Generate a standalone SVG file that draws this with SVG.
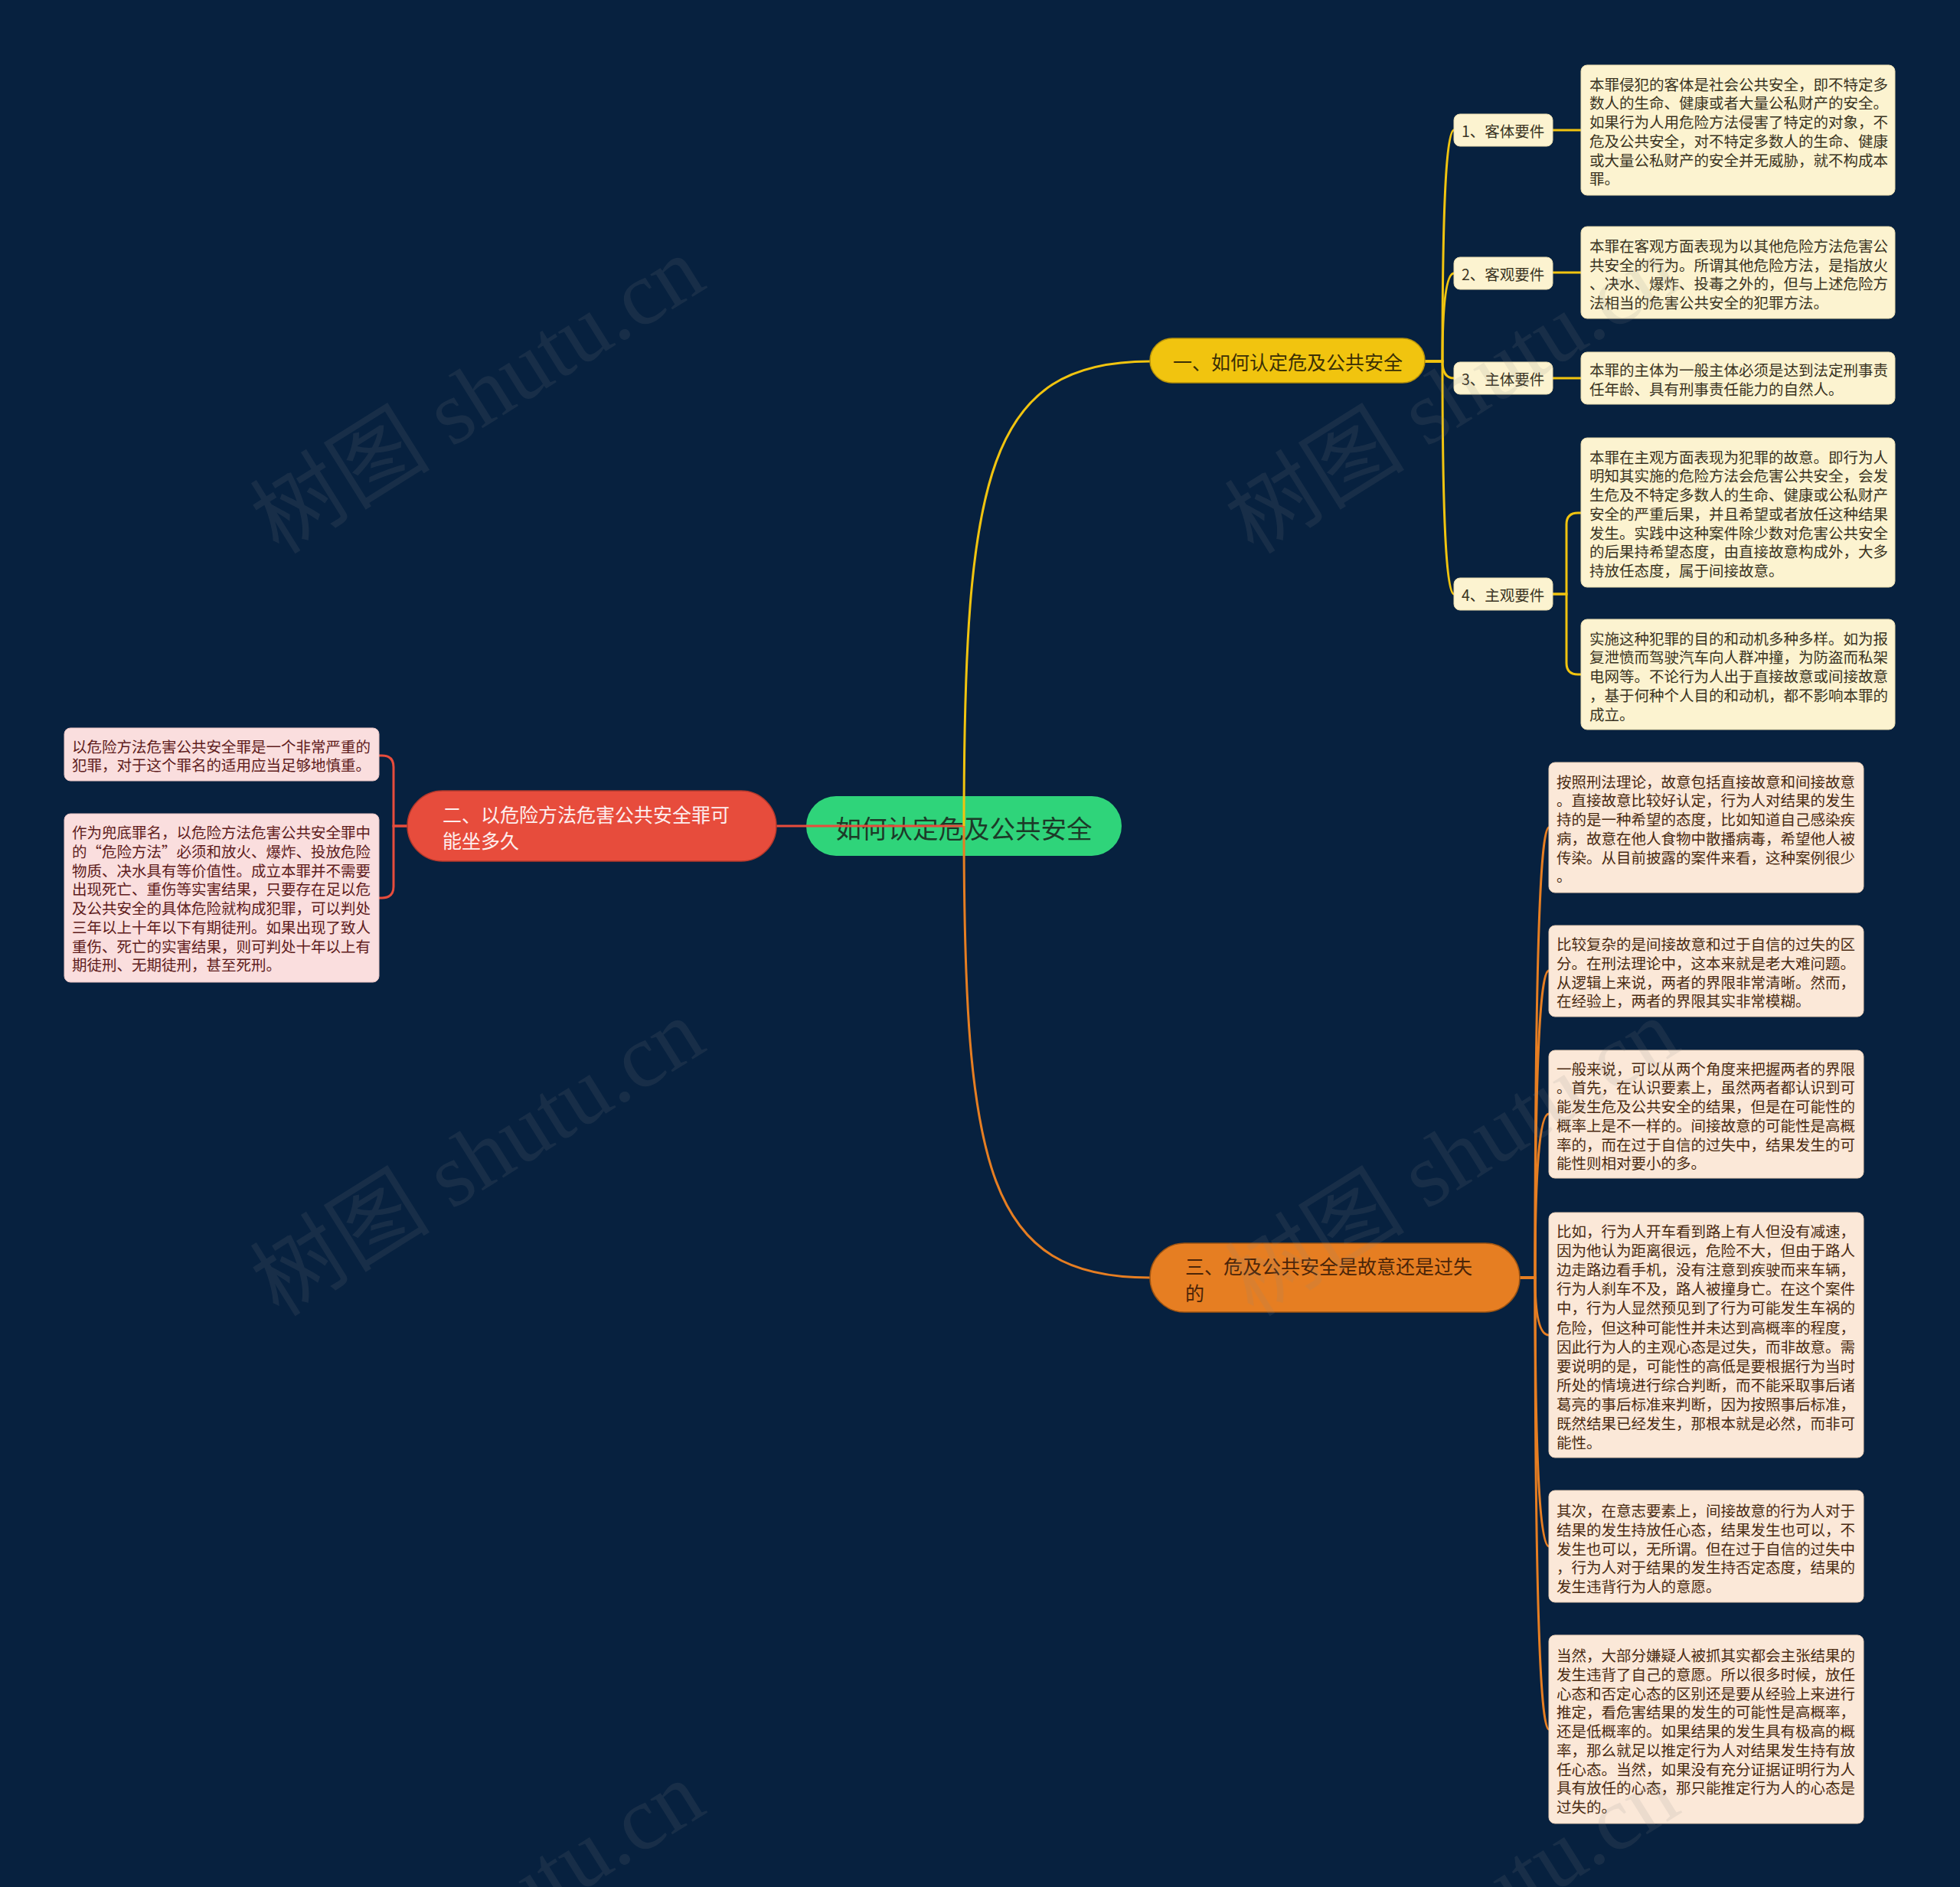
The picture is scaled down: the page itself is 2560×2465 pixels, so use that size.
<svg xmlns="http://www.w3.org/2000/svg" width="2560" height="2465" viewBox="0 0 2560 2465">
<style>
text{font-family:"Noto Sans CJK SC","Noto Sans",sans-serif;dominant-baseline:central}
.bx{font-size:19.5px}
.yb{fill:#fcf3d0;stroke:#e9dcae;stroke-width:1}
.pb{fill:#fadede;stroke:#e8c3c3;stroke-width:1}
.ob{fill:#fbe8d8;stroke:#e8cdb4;stroke-width:1}
.yt{fill:#3a3322}
.pt{fill:#5e1c1c}
.ot{fill:#4a2b12}
.cy{fill:none;stroke:#f1c40f;stroke-width:3}
.cr{fill:none;stroke:#e74c3c;stroke-width:3}
.co{fill:none;stroke:#e67e22;stroke-width:3}
.wm{font-family:"Liberation Serif","Noto Sans CJK SC",serif;font-size:118px;fill:#8a8a8a;opacity:0.13;dominant-baseline:auto}
</style>
<rect width="2560" height="2465" fill="#07213f"/>

<g id="root">
<rect x="1053" y="1040" width="412" height="78" rx="39" fill="#2fd47a"/>
<text x="1259" y="1080" text-anchor="middle" font-size="33.5" fill="#1c3a28">如何认定危及公共安全</text>
</g>

<g id="connectors">
<path class="cr" d="M1014 1079 H1259"/>
<path class="cy" d="M1259 1079 C1259 620 1290 472 1502 472"/>
<path class="co" d="M1259 1079 C1259 1530 1290 1669 1502 1669"/>
<path class="cy" d="M1861 472 H1884 Q1884 170 1899 170"/>
<path class="cy" d="M1861 472 H1884 Q1884 357 1899 357"/>
<path class="cy" d="M1861 472 H1884 Q1884 494 1899 494"/>
<path class="cy" d="M1861 472 H1884 Q1884 776 1899 776"/>
<path class="cy" d="M2028 170 H2065"/>
<path class="cy" d="M2028 356 H2065"/>
<path class="cy" d="M2028 494 H2065"/>
<path class="cy" d="M2028 776 H2046 V685 Q2046 670 2061 670 H2065"/>
<path class="cy" d="M2028 776 H2046 V866 Q2046 881 2061 881 H2065"/>
<path class="cr" d="M532 1079 H514 V1002 Q514 987 499 987 H495"/>
<path class="cr" d="M532 1079 H514 V1158 Q514 1173 499 1173 H495"/>
<path class="co" d="M1985 1669 H2005 Q2005 1081 2023 1081"/>
<path class="co" d="M1985 1669 H2005 Q2005 1268 2023 1268"/>
<path class="co" d="M1985 1669 H2005 Q2005 1455 2023 1455"/>
<path class="co" d="M1985 1669 H2005 Q2005 1744 2023 1744"/>
<path class="co" d="M1985 1669 H2005 Q2005 2020 2023 2020"/>
<path class="co" d="M1985 1669 H2005 Q2005 2259 2023 2259"/>
</g>

<g id="n1">
<rect x="1502" y="442" width="359" height="58" rx="29" fill="#f1c40f" stroke="#b8930a" stroke-width="1.5"/>
<text x="1682" y="472" text-anchor="middle" font-size="25" fill="#3a2f05">一、如何认定危及公共安全</text>
</g>
<g id="n2">
<rect x="532" y="1033" width="482" height="92" rx="46" fill="#e74c3c" stroke="#b3382b" stroke-width="1.5"/>
<text font-size="25" fill="#fdeeee"><tspan x="578" y="1063">二、以危险方法危害公共安全罪可</tspan><tspan x="578" y="1097">能坐多久</tspan></text>
</g>
<g id="n3">
<rect x="1502" y="1624" width="483" height="90" rx="45" fill="#e67e22" stroke="#9e5412" stroke-width="1.5"/>
<text font-size="25" fill="#4a2408"><tspan x="1548" y="1653">三、危及公共安全是故意还是过失</tspan><tspan x="1548" y="1688">的</tspan></text>
</g>

<g id="n1-1">
<rect class="yb" x="1899" y="149" width="129" height="42" rx="8"/>
<text class="bx yt" x="1909" y="170">1、客体要件</text>
</g>
<g id="n1-1-1">
<rect class="yb" x="2065" y="85" width="410" height="170" rx="8"/>
<text class="bx yt"><tspan x="2076" y="108.5">本罪侵犯的客体是社会公共安全，即不特定多</tspan><tspan x="2076" y="133.3">数人的生命、健康或者大量公私财产的安全。</tspan><tspan x="2076" y="158">如果行为人用危险方法侵害了特定的对象，不</tspan><tspan x="2076" y="182.8">危及公共安全，对不特定多数人的生命、健康</tspan><tspan x="2076" y="207.5">或大量公私财产的安全并无威胁，就不构成本</tspan><tspan x="2076" y="232.3">罪。</tspan></text>
</g>
<g id="n1-2">
<rect class="yb" x="1899" y="336" width="129" height="42" rx="8"/>
<text class="bx yt" x="1909" y="357">2、客观要件</text>
</g>
<g id="n1-2-1">
<rect class="yb" x="2065" y="296" width="410" height="120" rx="8"/>
<text class="bx yt"><tspan x="2076" y="320">本罪在客观方面表现为以其他危险方法危害公</tspan><tspan x="2076" y="344.5">共安全的行为。所谓其他危险方法，是指放火</tspan><tspan x="2076" y="369">、决水、爆炸、投毒之外的，但与上述危险方</tspan><tspan x="2076" y="393.5">法相当的危害公共安全的犯罪方法。</tspan></text>
</g>
<g id="n1-3">
<rect class="yb" x="1899" y="473" width="129" height="42" rx="8"/>
<text class="bx yt" x="1909" y="494">3、主体要件</text>
</g>
<g id="n1-3-1">
<rect class="yb" x="2065" y="460" width="410" height="68" rx="8"/>
<text class="bx yt"><tspan x="2076" y="482">本罪的主体为一般主体必须是达到法定刑事责</tspan><tspan x="2076" y="506.5">任年龄、具有刑事责任能力的自然人。</tspan></text>
</g>
<g id="n1-4">
<rect class="yb" x="1899" y="755" width="129" height="42" rx="8"/>
<text class="bx yt" x="1909" y="776">4、主观要件</text>
</g>
<g id="n1-4-1">
<rect class="yb" x="2065" y="572" width="410" height="195" rx="8"/>
<text class="bx yt"><tspan x="2076" y="595.5">本罪在主观方面表现为犯罪的故意。即行为人</tspan><tspan x="2076" y="620.3">明知其实施的危险方法会危害公共安全，会发</tspan><tspan x="2076" y="645">生危及不特定多数人的生命、健康或公私财产</tspan><tspan x="2076" y="669.8">安全的严重后果，并且希望或者放任这种结果</tspan><tspan x="2076" y="694.5">发生。实践中这种案件除少数对危害公共安全</tspan><tspan x="2076" y="719.3">的后果持希望态度，由直接故意构成外，大多</tspan><tspan x="2076" y="744">持放任态度，属于间接故意。</tspan></text>
</g>
<g id="n1-4-2">
<rect class="yb" x="2065" y="809" width="410" height="144" rx="8"/>
<text class="bx yt"><tspan x="2076" y="832.5">实施这种犯罪的目的和动机多种多样。如为报</tspan><tspan x="2076" y="857.3">复泄愤而驾驶汽车向人群冲撞，为防盗而私架</tspan><tspan x="2076" y="882">电网等。不论行为人出于直接故意或间接故意</tspan><tspan x="2076" y="906.8">，基于何种个人目的和动机，都不影响本罪的</tspan><tspan x="2076" y="931.5">成立。</tspan></text>
</g>

<g id="n2-1">
<rect class="pb" x="84" y="951" width="411" height="69" rx="8"/>
<text class="bx pt"><tspan x="94" y="973.5">以危险方法危害公共安全罪是一个非常严重的</tspan><tspan x="94" y="998">犯罪，对于这个罪名的适用应当足够地慎重。</tspan></text>
</g>
<g id="n2-2">
<rect class="pb" x="84" y="1063" width="411" height="220" rx="8"/>
<text class="bx pt"><tspan x="94" y="1086">作为兜底罪名，以危险方法危害公共安全罪中</tspan><tspan x="94" y="1110.8">的“危险方法”必须和放火、爆炸、投放危险</tspan><tspan x="94" y="1135.5">物质、决水具有等价值性。成立本罪并不需要</tspan><tspan x="94" y="1160.3">出现死亡、重伤等实害结果，只要存在足以危</tspan><tspan x="94" y="1185">及公共安全的具体危险就构成犯罪，可以判处</tspan><tspan x="94" y="1209.8">三年以上十年以下有期徒刑。如果出现了致人</tspan><tspan x="94" y="1234.5">重伤、死亡的实害结果，则可判处十年以上有</tspan><tspan x="94" y="1259.3">期徒刑、无期徒刑，甚至死刑。</tspan></text>
</g>

<g id="n3-1">
<rect class="ob" x="2023" y="996" width="411" height="170" rx="8"/>
<text class="bx ot"><tspan x="2033" y="1019.5">按照刑法理论，故意包括直接故意和间接故意</tspan><tspan x="2033" y="1044.3">。直接故意比较好认定，行为人对结果的发生</tspan><tspan x="2033" y="1069">持的是一种希望的态度，比如知道自己感染疾</tspan><tspan x="2033" y="1093.8">病，故意在他人食物中散播病毒，希望他人被</tspan><tspan x="2033" y="1118.5">传染。从目前披露的案件来看，这种案例很少</tspan><tspan x="2033" y="1143.3">。</tspan></text>
</g>
<g id="n3-2">
<rect class="ob" x="2023" y="1209" width="411" height="119" rx="8"/>
<text class="bx ot"><tspan x="2033" y="1232">比较复杂的是间接故意和过于自信的过失的区</tspan><tspan x="2033" y="1256.8">分。在刑法理论中，这本来就是老大难问题。</tspan><tspan x="2033" y="1281.5">从逻辑上来说，两者的界限非常清晰。然而，</tspan><tspan x="2033" y="1306.3">在经验上，两者的界限其实非常模糊。</tspan></text>
</g>
<g id="n3-3">
<rect class="ob" x="2023" y="1372" width="411" height="167" rx="8"/>
<text class="bx ot"><tspan x="2033" y="1394.5">一般来说，可以从两个角度来把握两者的界限</tspan><tspan x="2033" y="1419.3">。首先，在认识要素上，虽然两者都认识到可</tspan><tspan x="2033" y="1444">能发生危及公共安全的结果，但是在可能性的</tspan><tspan x="2033" y="1468.8">概率上是不一样的。间接故意的可能性是高概</tspan><tspan x="2033" y="1493.5">率的，而在过于自信的过失中，结果发生的可</tspan><tspan x="2033" y="1518.3">能性则相对要小的多。</tspan></text>
</g>
<g id="n3-4">
<rect class="ob" x="2023" y="1584" width="411" height="320" rx="8"/>
<text class="bx ot"><tspan x="2033" y="1607">比如，行为人开车看到路上有人但没有减速，</tspan><tspan x="2033" y="1632.1">因为他认为距离很远，危险不大，但由于路人</tspan><tspan x="2033" y="1657.2">边走路边看手机，没有注意到疾驶而来车辆，</tspan><tspan x="2033" y="1682.3">行为人刹车不及，路人被撞身亡。在这个案件</tspan><tspan x="2033" y="1707.4">中，行为人显然预见到了行为可能发生车祸的</tspan><tspan x="2033" y="1732.5">危险，但这种可能性并未达到高概率的程度，</tspan><tspan x="2033" y="1757.6">因此行为人的主观心态是过失，而非故意。需</tspan><tspan x="2033" y="1782.7">要说明的是，可能性的高低是要根据行为当时</tspan><tspan x="2033" y="1807.8">所处的情境进行综合判断，而不能采取事后诸</tspan><tspan x="2033" y="1832.9">葛亮的事后标准来判断，因为按照事后标准，</tspan><tspan x="2033" y="1858">既然结果已经发生，那根本就是必然，而非可</tspan><tspan x="2033" y="1883.1">能性。</tspan></text>
</g>
<g id="n3-5">
<rect class="ob" x="2023" y="1947" width="411" height="146" rx="8"/>
<text class="bx ot"><tspan x="2033" y="1972">其次，在意志要素上，间接故意的行为人对于</tspan><tspan x="2033" y="1996.8">结果的发生持放任心态，结果发生也可以，不</tspan><tspan x="2033" y="2021.5">发生也可以，无所谓。但在过于自信的过失中</tspan><tspan x="2033" y="2046.3">，行为人对于结果的发生持否定态度，结果的</tspan><tspan x="2033" y="2071">发生违背行为人的意愿。</tspan></text>
</g>
<g id="n3-6">
<rect class="ob" x="2023" y="2136" width="411" height="246" rx="8"/>
<text class="bx ot"><tspan x="2033" y="2161">当然，大部分嫌疑人被抓其实都会主张结果的</tspan><tspan x="2033" y="2185.8">发生违背了自己的意愿。所以很多时候，放任</tspan><tspan x="2033" y="2210.5">心态和否定心态的区别还是要从经验上来进行</tspan><tspan x="2033" y="2235.3">推定，看危害结果的发生的可能性是高概率，</tspan><tspan x="2033" y="2260">还是低概率的。如果结果的发生具有极高的概</tspan><tspan x="2033" y="2284.8">率，那么就足以推定行为人对结果发生持有放</tspan><tspan x="2033" y="2309.5">任心态。当然，如果没有充分证据证明行为人</tspan><tspan x="2033" y="2334.3">具有放任的心态，那只能推定行为人的心态是</tspan><tspan x="2033" y="2359">过失的。</tspan></text>
</g>

<g id="watermarks">
<text class="wm" text-anchor="middle" transform="translate(645 550) rotate(-32)">树图 shutu.cn</text>
<text class="wm" text-anchor="middle" transform="translate(1918 550) rotate(-32)">树图 shutu.cn</text>
<text class="wm" text-anchor="middle" transform="translate(645 1546) rotate(-32)">树图 shutu.cn</text>
<text class="wm" text-anchor="middle" transform="translate(1918 1546) rotate(-32)">树图 shutu.cn</text>
<text class="wm" text-anchor="middle" transform="translate(645 2542) rotate(-32)">树图 shutu.cn</text>
<text class="wm" text-anchor="middle" transform="translate(1918 2542) rotate(-32)">树图 shutu.cn</text>
</g>
</svg>
